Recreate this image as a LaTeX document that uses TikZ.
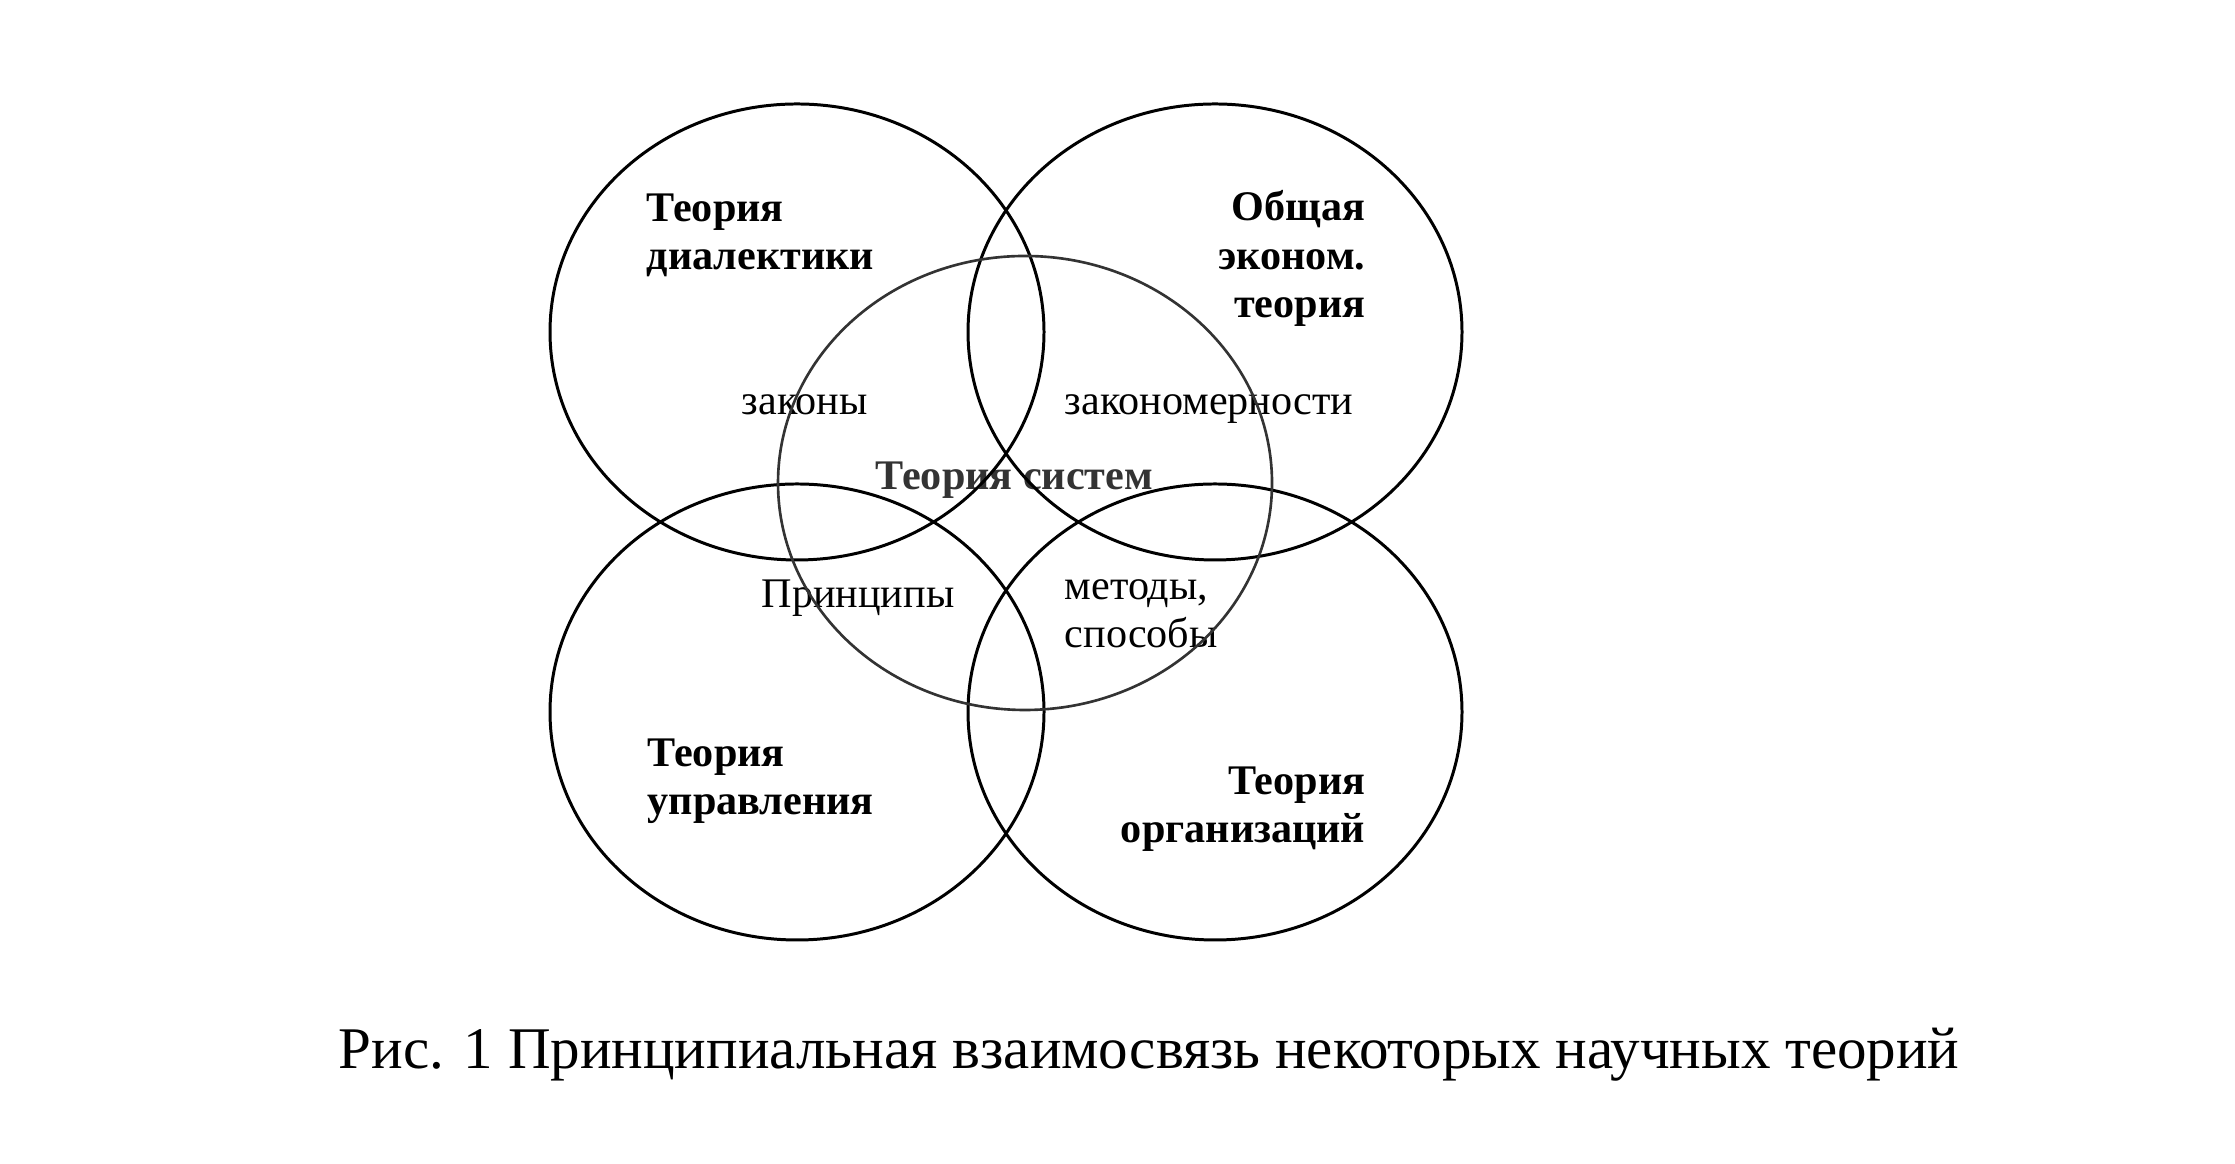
\documentclass[tikz,border=0pt]{standalone}
\usepackage{fontspec}
\setmainfont{Liberation Serif}
\definecolor{dg}{HTML}{333333}
\begin{document}
\begin{tikzpicture}[lbl/.style={inner sep=0pt, font=\fontsize{12}{13.8}\selectfont}, bld/.style={lbl, font=\fontsize{12}{13.8}\selectfont\bfseries}]
	\useasboundingbox (0,0) rectangle (22.35,11.64);
	%labels
	\node[bld, anchor=base west, align=left] (dial) at (6.46,8.94) {Теория\\диалектики};
	\node[bld, anchor=base east, align=right] (econ) at (13.66,8.46) {Общая\\эконом.\\теория};
	\node[bld, anchor=base west, align=left] (uprav) at (6.47,3.49) {Теория\\управления};
	\node[bld, anchor=base east, align=right] (org) at (13.66,3.21) {Теория\\организаций};
	\node[bld, dg, anchor=base west] (sist) at (8.75,6.74) {Теория систем};
	\node[lbl, anchor=base west] (zak) at (7.41,7.49) {законы};
	\node[lbl, anchor=base west] (zakm) at (10.64,7.49) {закономерности};
	\node[lbl, anchor=base west] (princ) at (7.61,5.56) {Принципы};
	\node[lbl, anchor=base west, align=left] (met) at (10.64,5.16) {методы,\\способы};
	%circles
	\foreach \x/\y in {7.97/8.32, 12.15/8.32, 7.97/4.52, 12.15/4.52}
	\draw[line width=0.85pt] (\x,\y) ellipse (2.47 and 2.28);
	\draw[dg, line width=0.75pt] (10.25,6.81) ellipse (2.47 and 2.27);
	\node[inner sep=0pt, anchor=base west, font=\fontsize{16.8}{20}\selectfont] (cap) at (3.38,0.95) {Рис. 1 Принципиальная взаимосвязь некоторых научных теорий};
\end{tikzpicture}
\end{document}
